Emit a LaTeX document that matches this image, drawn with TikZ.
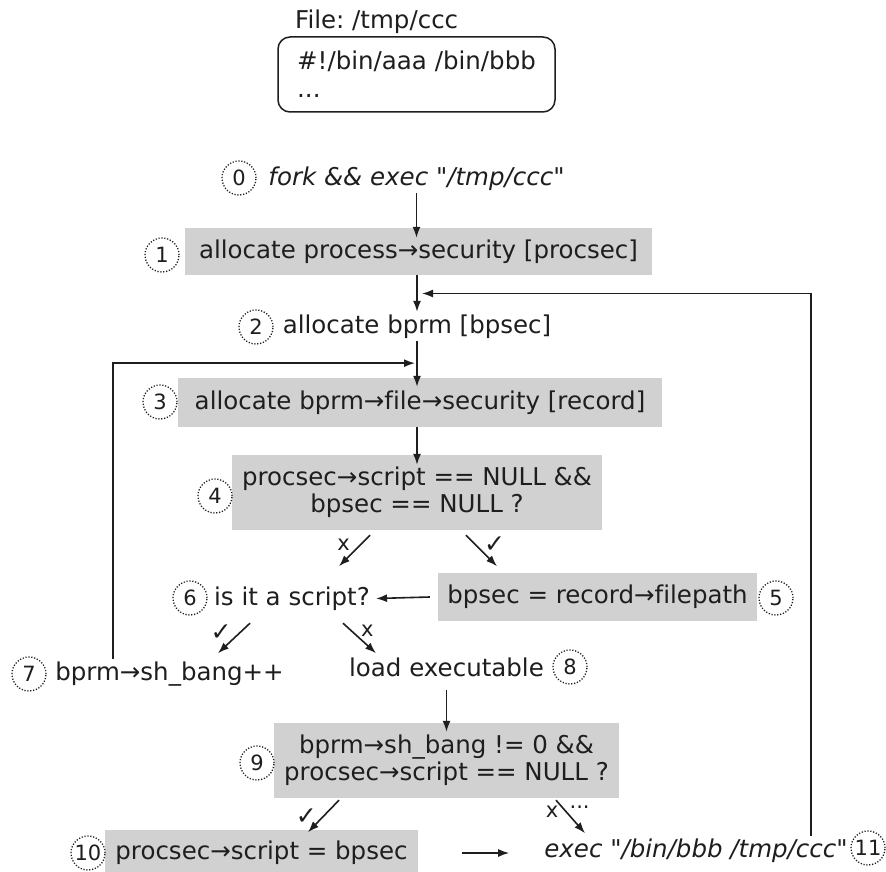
\documentclass[tikz,border=0pt]{standalone}
\usepackage{fontspec}
\newfontfamily\dvsans{DejaVu Sans}[Ligatures=CommonOff]
\usetikzlibrary{arrows.meta,calc}
\definecolor{boxgray}{RGB}{209,209,209}
\definecolor{ink}{RGB}{30,30,30}
\newcommand{\mainfs}{\dvsans\frenchspacing\fontsize{24.5}{27}\selectfont}
\newcommand{\choicefs}{\dvsans\fontsize{21}{22}\selectfont}
\newcommand{\tickfs}{\dvsans\fontsize{25}{26}\selectfont}
\begin{document}
\begin{tikzpicture}[x=1pt,y=-1pt,
  lbl/.style={font=\mainfs, text=ink, inner sep=3pt, text height=18pt, text depth=5pt},
  shaded/.style={font=\mainfs, text=ink, fill=boxgray, align=center, inner sep=3pt},
  stepno/.style={circle, draw=ink, line width=1.3pt, dash pattern=on 1.2pt off 1.7pt,
    minimum size=34pt, inner sep=0pt, text=ink, font=\dvsans\fontsize{21}{21}\selectfont},
  arr/.style={draw=ink, line width=1.6pt, -{Latex[length=11pt,width=8pt]}},
  choice/.style={font=\choicefs, text=ink, inner sep=1pt},
  yes/.style={font=\tickfs, text=ink, inner sep=1pt},
]
\useasboundingbox (0,0) rectangle (886,872);
\fill[white] (0,0) rectangle (886,872);

% file contents
\node[lbl, anchor=base west, inner sep=0pt] (title) at (295,29) {File: /tmp/ccc};
\node[draw=ink, line width=1.5pt, rounded corners=12pt, minimum width=277pt,
  minimum height=75pt, font=\mainfs, text=ink, align=left] (file) at (416.5,74.5)
  {\#!/bin/aaa /bin/bbb\\[1pt]...};

% steps
\node[lbl, anchor=base, font=\mainfs\itshape] (n0) at (416.5,185) {fork \&\& exec "/tmp/ccc"};
\node[shaded, minimum width=467pt, minimum height=47pt] (b1) at (418.5,251.5)
  {allocate process→security [procsec]};
\node[lbl, anchor=base] (n2) at (417,333) {allocate bprm [bpsec]};
\node[shaded, minimum width=484pt, minimum height=49pt] (b3) at (420,402.5)
  {allocate bprm→file→security [record]};
\node[shaded, minimum width=370pt, minimum height=75pt] (b4) at (417,492.5)
  {procsec→script == NULL \&\&\\bpsec == NULL ?};
\node[shaded, minimum width=319pt, minimum height=48pt] (b5) at (597.5,597)
  {bpsec = record→filepath};
\node[lbl, anchor=base] (n6) at (292,605) {is it a script?};
\node[lbl, anchor=base] (n7) at (169.5,680) {bprm→sh\_bang++};
\node[lbl, anchor=base] (n8) at (446.5,676) {load executable};
\node[shaded, minimum width=345pt, minimum height=75pt] (b9) at (446.5,760.5)
  {bprm→sh\_bang != 0 \&\&\\procsec→script == NULL ?};
\node[shaded, minimum width=313pt, minimum height=46pt] (b10) at (261.5,853)
  {procsec→script = bpsec};
\node[lbl, anchor=base, font=\mainfs\itshape] (n11) at (696,857) {exec "/bin/bbb /tmp/ccc"};

% step numbers
\node[stepno] (c0) at (239,178) {0};
\node[stepno] (c1) at (162,255) {1};
\node[stepno] (c2) at (256,327) {2};
\node[stepno] (c3) at (160,402) {3};
\node[stepno] (c4) at (215,496) {4};
\node[stepno] (c5) at (776,598) {5};
\node[stepno] (c6) at (190,598) {6};
\node[stepno] (c7) at (29,674) {7};
\node[stepno] (c8) at (570,667) {8};
\node[stepno] (c9) at (257,763) {9};
\node[stepno] (c10) at (88,853) {10};
\node[stepno] (c11) at (868,848) {11};

% junction points on the main spine
\coordinate (m12) at ($(n2.north |- b1.south)!0.5!(n2.north)$);
\coordinate (m23) at ($(n2.south)!0.6!(n2.south |- b3.north)$);

% flow
\draw[arr] (n0.south) -- ([yshift=-10pt]n0.south |- b1.north);
\draw[arr] (n2.north |- b1.south) -- (n2.north);
\draw[arr] (n2.south) -- ([yshift=-9pt]n2.south |- b3.north);
\draw[arr] (b3.south -| n2.south) -- ([yshift=-10pt]n2.south |- b4.north);
\draw[arr] ([shift={(-47,5)}]b4.south) -- node[pos=0.3, left=9pt, choice] {x} ++(-31,31);
\draw[arr] ([shift={(49,5)}]b4.south) -- node[pos=0.3, right=7pt, yes] {✓} ++(31,31);
\draw[arr] ([xshift=-8pt]b5.west) -- ([xshift=3pt]n6.east);
\draw[arr] ([shift={(-42,10)}]n6.south) -- node[pos=0.3, left=7pt, yes] {✓} ++(-32,30);
\draw[arr] ([shift={(51,10)}]n6.south) -- node[pos=0.25, right=8pt, choice] {x} ++(33,30);
\draw[arr] ([yshift=-6pt]n8.south) -- ([yshift=-9pt]n8.south |- b9.north);
\draw[arr] ([shift={(-107.5,2)}]b9.south) -- node[pos=0.5, left=5pt, yes] {✓} ++(-31,32);
\draw[arr] ([shift={(109.5,2)}]b9.south) -- node[pos=0.35, left=6pt, choice] {x}
  node[pos=0.2, right=6pt, choice] {...} ++(29,33);
\draw[arr] ([xshift=44pt]b10.east) -- ([xshift=-32pt]n11.west |- b10.east);

% loops back to the top
\draw[arr] ([xshift=-40pt]n11.north east) |- ([xshift=5pt]m12);
\draw[arr] ([xshift=61pt]n7.north west) |- ([xshift=-2pt]m23);
\end{tikzpicture}
\end{document}
